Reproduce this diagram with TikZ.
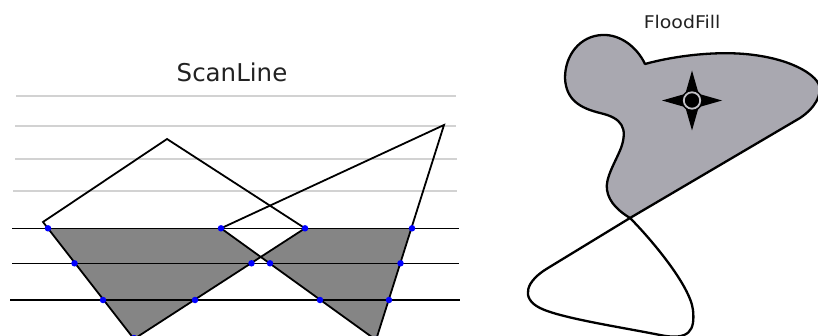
\documentclass[tikz,border=0pt]{standalone}
\usepackage{fontspec}
\setmainfont{DejaVu Sans}
\definecolor{scanfill}{HTML}{858585}
\definecolor{floodfill}{HTML}{A9A8B0}
\definecolor{guide}{HTML}{D2D2D2}
\definecolor{titlecol}{HTML}{222222}
\tikzset{
  guideline/.style={guide, line width=1.4pt},
  scanline/.style={black, line width=1.3pt},
  polyedge/.style={black, line width=1.8pt, line join=miter},
  hit/.style={circle, fill=blue, inner sep=0pt, minimum size=6.5pt},
  title/.style={text=titlecol, inner sep=0pt},
  floodedge/.style={black, line width=2.3pt, line join=round}
}
\begin{document}
\begin{tikzpicture}[x=1pt,y=-1pt]
\useasboundingbox (0,0) rectangle (818,336);
\clip (0,0) rectangle (818,336);

% ---------------- ScanLine ----------------
\node[title, font=\fontsize{24.5}{28}\selectfont] (tscan) at (232,72) {ScanLine};

% guide lines
\coordinate (g1a) at (16,96);  \coordinate (g1b) at (456,96);
\coordinate (g2a) at (15,126); \coordinate (g2b) at (456,126);
\coordinate (g3a) at (15,159); \coordinate (g3b) at (457,159);
\coordinate (g4a) at (13,191); \coordinate (g4b) at (457,191);
\draw[guideline] (g1a) -- (g1b);
\draw[guideline] (g2a) -- (g2b);
\draw[guideline] (g3a) -- (g3b);
\draw[guideline] (g4a) -- (g4b);

% polygon vertices
\coordinate (p1t) at (167,139);
\coordinate (p1l) at (43,222);
\coordinate (p1b) at (134,339);
\coordinate (p1r) at (305,228.3);
\coordinate (p2t) at (444,125);
\coordinate (p2l) at (221,228.3);
\coordinate (p2b) at (376,340);

% fill below first scan line, even-odd
\begin{scope}
  \clip (0,228.3) rectangle (818,336);
  \fill[scanfill, even odd rule] (p1t) -- (p1l) -- (p1b) -- (p1r) -- cycle
                                 (p2t) -- (p2l) -- (p2b) -- cycle;
\end{scope}

% scan lines
\coordinate (s1a) at (12,228.3); \coordinate (s1b) at (459,228.3);
\coordinate (s2a) at (12,263.3); \coordinate (s2b) at (459,263.3);
\coordinate (s3a) at (10,300);   \coordinate (s3b) at (460,300);
\draw[scanline] (s1a) -- (s1b);
\draw[scanline] (s2a) -- (s2b);
\draw[scanline] (s3a) -- (s3b);

% polygon outlines
\draw[polyedge] (p1t) -- (p1l) -- (p1b) -- (p1r) -- cycle;
\draw[polyedge] (p2t) -- (p2l) -- (p2b) -- cycle;

% intersection points
\foreach \x/\y in {48/228.3, 221/228.3, 305/228.3, 412/228.3,
                   74.5/263.3, 251.5/263.3, 270/263.3, 400.5/263.3,
                   103/300, 195/300, 320/300, 389/300,
                   134/338, 376/339}
  \node[hit] at (\x,\y) {};

% ---------------- FloodFill ----------------
\node[title, font=\fontsize{17.5}{21}\selectfont, xscale=1.08] (tflood) at (682,22) {FloodFill};

\coordinate (cross) at (630,218);
\coordinate (notch) at (645,64);

% blob fill
\fill[floodfill]
  (cross) -- (800,118)
  .. controls (815,108) and (822,95) .. (819,85)
  .. controls (815,74) and (790,58) .. (745,54)
  .. controls (710,51) and (670,57) .. (notch)
  .. controls (637,47) and (620,34) .. (602,35)
  .. controls (580,36) and (565,55) .. (565,78)
  .. controls (566,100) and (580,108) .. (600,113)
  .. controls (622,118) and (628,128) .. (621,148)
  .. controls (615,163) and (605,178) .. (607,190)
  .. controls (609,203) and (620,212) .. (cross) -- cycle;

% whole figure-eight outline
\draw[floodedge]
  (cross) -- (800,118)
  .. controls (815,108) and (822,95) .. (819,85)
  .. controls (815,74) and (790,58) .. (745,54)
  .. controls (710,51) and (670,57) .. (notch)
  .. controls (637,47) and (620,34) .. (602,35)
  .. controls (580,36) and (565,55) .. (565,78)
  .. controls (566,100) and (580,108) .. (600,113)
  .. controls (622,118) and (628,128) .. (621,148)
  .. controls (615,163) and (605,178) .. (607,190)
  .. controls (609,203) and (620,212) .. (cross)
  .. controls (650,238) and (690,285) .. (693,310)
  .. controls (695,330) and (690,341) .. (660,335)
  .. controls (620,327) and (560,318) .. (540,308)
  .. controls (520,298) and (526,281) .. (548,268)
  -- (cross);

% seed star
\coordinate (seed) at (692,100.5);
\fill[black] (seed) ++(0,-30) -- ++(6,21) -- ++(3,3) -- ++(21,6)
  -- ++(-21,6) -- ++(-3,3) -- ++(-6,21) -- ++(-6,-21) -- ++(-3,-3)
  -- ++(-21,-6) -- ++(21,-6) -- ++(3,-3) -- cycle;
\draw[floodfill!70!white, line width=1.8pt] (seed) circle (8.2);
\fill[black] (seed) circle (5.2);
\end{tikzpicture}
\end{document}
